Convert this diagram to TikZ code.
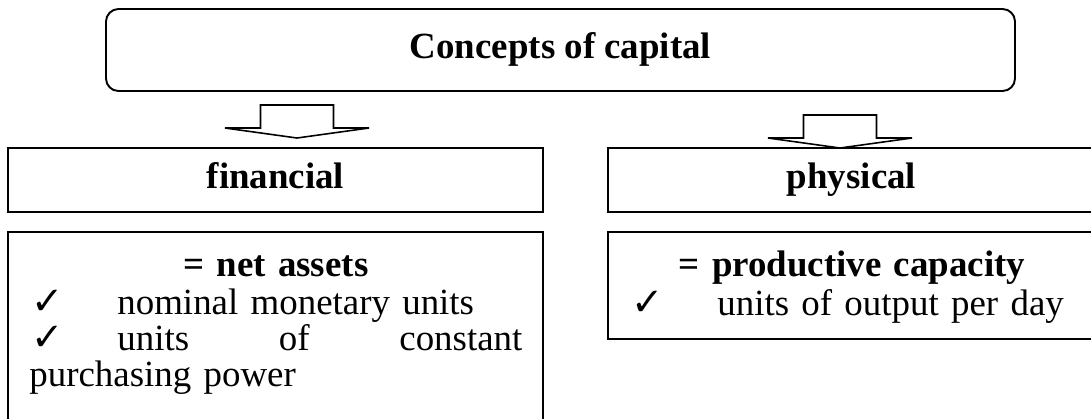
\documentclass[tikz,border=0pt]{standalone}
\usepackage{fontspec}
\setmainfont{Liberation Serif}
\newfontfamily\checkfont{DejaVu Sans}
\usetikzlibrary{positioning}

% check mark followed by the tab gap used in both lists
\newcommand{\checkitem}{\makebox[1.76cm][l]{\hspace{0.05cm}\smash{\checkfont\bfseries\fontsize{22}{22}\selectfont ✓}}}

\begin{document}
\begin{tikzpicture}[
  font=\fontsize{21}{20.5}\selectfont,
  title/.style={draw, line width=1.1pt, rounded corners=0.25cm, minimum width=18.18cm,
    minimum height=1.64cm, inner sep=0pt, text height=0.51cm, text depth=0.16cm},
  kind/.style={draw, line width=1.1pt, minimum height=1.28cm, inner sep=0pt,
    text height=0.51cm, text depth=0.16cm},
  listbox/.style={draw, line width=1.1pt, inner sep=0pt},
  listtext/.style={anchor=north west, align=left, inner sep=0pt},
  blockarrow/.style={draw, line width=0.9pt, fill=white, line join=miter}
]
\useasboundingbox (0,0) rectangle (21.82,-8.36);

% heading
\node[title] (capital) at (11.21,-1.0) {\textbf{Concepts of capital}};

% the two concepts
\node[kind, minimum width=10.70cm] (financial) at (5.51,-3.60) {\textbf{financial}};
\node[kind, minimum width=9.74cm] (physical) at (17.03,-3.60) {\textbf{physical}};

% hollow block arrows under the heading
\coordinate (fintip) at (5.94,-2.76);
\coordinate (phystip) at (16.80,-2.96);
\foreach \tip in {fintip, phystip}
  \draw[blockarrow] (\tip) -- ++(-1.44,0.2) -- ++(0.71,0) -- ++(0,0.46) -- ++(1.46,0)
    -- ++(0,-0.46) -- ++(0.71,0) -- cycle;

% what is maintained
\node[listbox, minimum width=10.70cm, minimum height=4.2cm, below=0.36cm of financial] (netbox) {};
\node[listbox, minimum width=9.74cm, minimum height=2.14cm, below=0.36cm of physical] (capbox) {};

\node[listtext, text width=9.86cm] (netlist) at ([xshift=0.44cm, yshift=-0.40cm]netbox.north west)
  {\strut\hfill\textbf{= net assets}\hfill\null\\
   \checkitem nominal monetary units\\
   \checkitem units\hfill of\hfill constant\\
   purchasing power};
\node[listtext, text width=8.9cm] (caplist) at ([xshift=0.44cm, yshift=-0.40cm]capbox.north west)
  {\strut\hfill\textbf{= productive capacity}\hfill\null\\
   \checkitem units of output per day};

\end{tikzpicture}
\end{document}
